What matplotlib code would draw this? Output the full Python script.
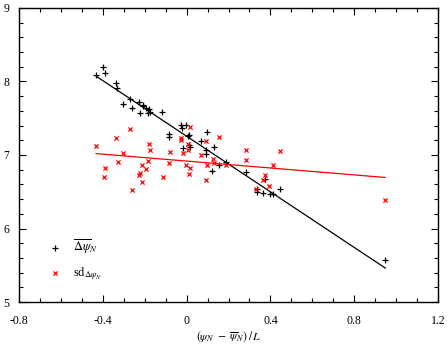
"""
Scatter of mean and sd of delta psi against normalised psi offset
"""

import matplotlib

matplotlib.use("Agg")
import matplotlib.pyplot as plt
import numpy as np
from matplotlib.ticker import MultipleLocator

# mean delta psi (black +)
mean_x = [
    -0.433, -0.398, -0.389, -0.336, -0.331, -0.304, -0.271, -0.263, -0.226, -0.223,
    -0.210, -0.207, -0.194, -0.179, -0.175, -0.183, -0.116, -0.086, -0.083, -0.025,
    -0.022, -0.003, 0.011, 0.006, -0.016, 0.010, 0.014, 0.068, 0.095, 0.091,
    0.091, 0.133, 0.123, 0.154, 0.186, 0.283, 0.375, 0.334, 0.334, 0.363,
    0.397, 0.410, 0.447, 0.948,
]
mean_y = [
    8.088, 8.193, 8.112, 7.984, 7.916, 7.694, 7.758, 7.635, 7.721, 7.567,
    7.684, 7.667, 7.635, 7.622, 7.589, 7.567, 7.589, 7.282, 7.249, 7.408,
    7.363, 7.404, 7.272, 7.259, 7.099, 7.132, 7.113, 7.190, 7.317, 7.068,
    7.014, 7.109, 6.786, 6.860, 6.901, 6.771, 6.671, 6.533, 6.501, 6.479,
    6.476, 6.469, 6.533, 5.567,
]

# sd of delta psi (red x)
sd_x = [
    -0.432, -0.336, -0.269, -0.180, -0.175, -0.304, 0.016, -0.026, -0.029, 0.005,
    0.008, -0.015, 0.091, 0.154, -0.081, 0.068, 0.124, -0.329, -0.389, -0.396,
    -0.263, -0.212, -0.193, -0.223, -0.228, -0.212, -0.183, -0.115, -0.086, -0.003,
    0.014, 0.010, 0.091, 0.097, 0.132, 0.186, 0.283, 0.283, 0.445, 0.410,
    0.375, 0.363, 0.394, 0.333, 0.947,
]
sd_y = [
    7.122, 7.227, 7.358, 7.154, 7.072, 7.031, 7.385, 7.227, 7.204, 7.143,
    7.068, 7.023, 7.195, 7.241, 7.045, 6.996, 6.952, 6.909, 6.819, 6.701,
    6.528, 6.864, 6.806, 6.751, 6.724, 6.628, 6.922, 6.705, 6.896, 6.864,
    6.823, 6.741, 6.660, 6.860, 6.887, 6.860, 7.072, 6.936, 7.054, 6.868,
    6.724, 6.660, 6.582, 6.544, 6.392,
]

plt.rcParams["font.family"] = "Liberation Serif"
plt.rcParams["mathtext.fontset"] = "stix"

fig = plt.figure(figsize=(4.47, 3.44), dpi=100)
ax = fig.add_axes([0.0425, 0.122, 0.9375, 0.855])

ax.scatter(mean_x, mean_y, marker="+", s=22, color="black", linewidths=0.9,
           label=r"$\overline{\Delta\psi}_N$")
ax.scatter(sd_x, sd_y, marker="x", s=9, color="red", linewidths=0.9,
           label=r"sd$_{\Delta\psi_N}$")

# least squares lines over the data range
for xs, ys, col in [(mean_x, mean_y, "black"), (sd_x, sd_y, "red")]:
    b, a = np.polyfit(xs, ys, 1)
    xl = np.array([min(xs), max(xs)])
    ax.plot(xl, a + b * xl, color=col, linewidth=0.9)

ax.set_xlim(-0.8, 1.2)
ax.set_ylim(5, 9)
ax.xaxis.set_minor_locator(MultipleLocator(0.1))
ax.yaxis.set_major_locator(MultipleLocator(1))
ax.yaxis.set_minor_locator(MultipleLocator(0.2))
ax.set_xticks([-0.8, -0.4, 0, 0.4, 0.8, 1.2])
ax.set_xticklabels(["-0.8", "-0.4", "0", "0.4", "0.8", "1.2"])
ax.tick_params(which="both", direction="in", top=True, right=True, labelsize=8.5)
ax.tick_params(axis="x", which="major", pad=9)
ax.tick_params(axis="y", which="major", pad=7)
ax.tick_params(which="major", length=5, width=0.8)
ax.tick_params(which="minor", length=3, width=0.8)
for s in ax.spines.values():
    s.set_linewidth(1.0)

ax.set_xlabel(r"$(\psi_N\ -\ \overline{\psi}_N)\,/\,L$", fontsize=8.5, labelpad=2)

ax.legend(loc="lower left", bbox_to_anchor=(0.045, 0.03), frameon=False, fontsize=9,
          handlelength=1.0, handletextpad=0.9, labelspacing=0.75, scatterpoints=1)

plt.savefig("out.png", dpi=100)
plt.close()
